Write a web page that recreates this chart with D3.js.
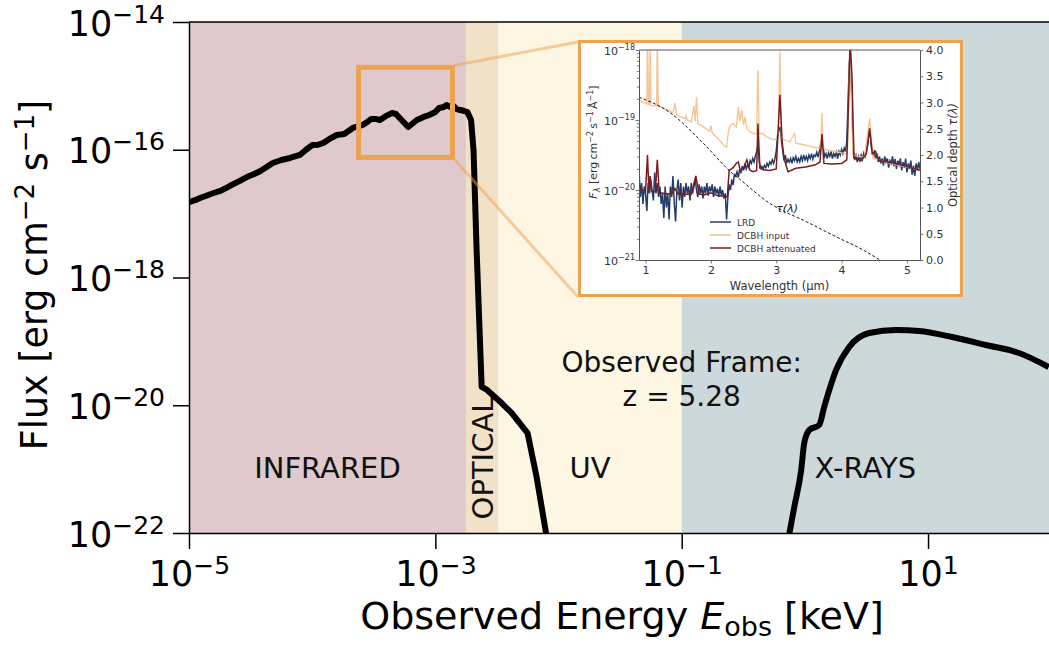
<!DOCTYPE html>
<html><head><meta charset="utf-8">
<script src="https://cdn.jsdelivr.net/npm/d3@7"></script>
<style>body{margin:0;background:#fff}svg{display:block}text{font-family:"DejaVu Sans",sans-serif}</style>
</head><body><svg id="c" width="1049" height="646"></svg>
<script>
// ---------------- DATA ----------------
// Main SED: [log10(E/keV), log10(Flux)]
const sedLowEnergy = [[-5.00,-16.82],[-4.95,-16.79],[-4.91,-16.755],[-4.86,-16.72],[-4.80,-16.677],[-4.74,-16.64],[-4.67,-16.568],[-4.60,-16.50],[-4.53,-16.427],[-4.47,-16.38],[-4.42,-16.333],[-4.37,-16.27],[-4.32,-16.207],[-4.25,-16.16],[-4.18,-16.129],[-4.10,-16.082],[-4.05,-16.00],[-4.00,-15.926],[-3.95,-15.92],[-3.91,-15.894],[-3.86,-15.83],[-3.80,-15.769],[-3.74,-15.753],[-3.67,-15.659],[-3.62,-15.63],[-3.59,-15.612],[-3.55,-15.56],[-3.52,-15.519],[-3.48,-15.52],[-3.45,-15.534],[-3.40,-15.47],[-3.35,-15.425],[-3.32,-15.44],[-3.29,-15.503],[-3.22,-15.644],[-3.15,-15.534],[-3.10,-15.49],[-3.05,-15.456],[-3.00,-15.41],[-2.97,-15.346],[-2.93,-15.33],[-2.91,-15.299],[-2.88,-15.33],[-2.86,-15.30],[-2.83,-15.36],[-2.80,-15.378],[-2.77,-15.39],[-2.74,-15.409],[-2.71,-15.534],[-2.69,-16.004],[-2.665,-17.569],[-2.641,-18.822],[-2.624,-19.714],[-2.58,-19.76],[-2.535,-19.84],[-2.46,-19.97],[-2.381,-20.121],[-2.251,-20.435],[-2.178,-21.123],[-2.097,-22.05]];
const sedXray = [[-0.13,-22.05],[-0.086,-21.593],[-0.03,-21.014],[-0.005,-20.591],[0.035,-20.388],[0.116,-20.309],[0.157,-20.027],[0.254,-19.448],[0.36,-19.088],[0.522,-18.869],[0.741,-18.822],[0.927,-18.838],[1.195,-18.932],[1.47,-19.057],[1.738,-19.182],[1.98,-19.401]];
// Bands (keV)
const bandNames = ["INFRARED","OPTICAL","UV","X-RAYS"];
const bandEdges = [1e-5, 1.771e-3, 3.263e-3, 0.1, 96];
const bandColors = ["#dfc9cc","#f1e2c7","#fdf6e3","#cdd8db"];
// Axis ticks
const xTickExps = [-5,-3,-1,1];
const yTickExps = [-14,-16,-18,-20,-22];
// zoom box (keV, flux)
const zoomBoxE = [2.384e-4, 1.378e-3];
const zoomBoxF = [Math.pow(10,-16.12), Math.pow(10,-14.71)];
// Inset spectra: [wavelength um, log10 F_lambda]
const lrdSpectrum = [[0.90,-19.70],[0.92,-20.10],[0.94,-19.90],[0.96,-20.20],[0.98,-19.95],[1.00,-20.05],[1.02,-20.30],[1.04,-19.90],[1.06,-20.05],[1.08,-19.85],[1.10,-20.00],[1.12,-20.15],[1.14,-19.75],[1.16,-20.05],[1.18,-19.90],[1.20,-20.10],[1.22,-19.95],[1.24,-20.20],[1.26,-20.05],[1.28,-20.40],[1.30,-19.95],[1.32,-20.25],[1.34,-20.05],[1.36,-20.42],[1.38,-19.95],[1.40,-20.10],[1.42,-19.80],[1.44,-20.20],[1.46,-20.45],[1.48,-20.00],[1.50,-19.85],[1.52,-20.15],[1.54,-19.90],[1.56,-20.25],[1.58,-19.95],[1.60,-20.10],[1.62,-19.90],[1.64,-20.05],[1.66,-19.95],[1.68,-20.15],[1.70,-19.90],[1.72,-20.05],[1.74,-19.95],[1.76,-19.85],[1.78,-20.00],[1.80,-20.10],[1.82,-19.92],[1.84,-20.05],[1.86,-19.95],[1.88,-20.12],[1.90,-19.95],[1.92,-20.05],[1.94,-19.90],[1.96,-20.08],[1.98,-19.95],[2.00,-20.02],[2.02,-19.92],[2.04,-20.10],[2.06,-19.95],[2.08,-20.05],[2.10,-19.98],[2.12,-20.10],[2.14,-19.95],[2.16,-20.08],[2.18,-20.00],[2.20,-20.12],[2.22,-20.05],[2.24,-20.42],[2.26,-20.10],[2.28,-19.92],[2.30,-20.00],[2.32,-19.85],[2.34,-19.93],[2.36,-19.78],[2.38,-19.80],[2.40,-19.74],[2.42,-19.82],[2.44,-19.70],[2.46,-19.76],[2.48,-19.66],[2.50,-19.72],[2.52,-19.62],[2.54,-19.70],[2.56,-19.64],[2.58,-19.68],[2.60,-19.58],[2.62,-19.62],[2.64,-19.55],[2.66,-19.60],[2.68,-19.52],[2.70,-19.45],[2.72,-19.36],[2.74,-19.60],[2.76,-19.68],[2.78,-19.66],[2.80,-19.70],[2.82,-19.65],[2.84,-19.68],[2.86,-19.62],[2.88,-19.66],[2.90,-19.60],[2.92,-19.63],[2.94,-19.57],[2.96,-19.62],[2.98,-19.55],[3.00,-19.45],[3.02,-19.22],[3.04,-19.15],[3.06,-19.10],[3.08,-19.30],[3.10,-19.45],[3.12,-19.58],[3.14,-19.50],[3.16,-19.62],[3.18,-19.56],[3.20,-19.60],[3.22,-19.55],[3.24,-19.62],[3.26,-19.54],[3.28,-19.58],[3.30,-19.52],[3.32,-19.60],[3.34,-19.55],[3.36,-19.60],[3.38,-19.52],[3.40,-19.58],[3.42,-19.50],[3.44,-19.57],[3.46,-19.52],[3.48,-19.58],[3.50,-19.50],[3.52,-19.55],[3.54,-19.48],[3.56,-19.56],[3.58,-19.50],[3.60,-19.52],[3.62,-19.46],[3.64,-19.53],[3.66,-19.45],[3.68,-19.35],[3.70,-19.28],[3.72,-19.40],[3.74,-19.52],[3.76,-19.48],[3.78,-19.55],[3.80,-19.47],[3.82,-19.52],[3.84,-19.45],[3.86,-19.55],[3.88,-19.48],[3.90,-19.52],[3.92,-19.46],[3.94,-19.55],[3.96,-19.45],[3.98,-19.50],[4.00,-19.42],[4.02,-19.48],[4.04,-19.40],[4.06,-19.45],[4.08,-19.30],[4.10,-18.70],[4.12,-18.15],[4.14,-18.25],[4.16,-18.80],[4.18,-19.45],[4.20,-19.55],[4.22,-19.50],[4.24,-19.60],[4.26,-19.52],[4.28,-19.58],[4.30,-19.50],[4.32,-19.56],[4.34,-19.47],[4.36,-19.52],[4.38,-19.42],[4.40,-19.35],[4.42,-19.18],[4.44,-19.22],[4.46,-19.42],[4.48,-19.50],[4.50,-19.45],[4.52,-19.55],[4.54,-19.48],[4.56,-19.60],[4.58,-19.52],[4.60,-19.62],[4.62,-19.55],[4.64,-19.65],[4.66,-19.52],[4.68,-19.60],[4.70,-19.55],[4.72,-19.68],[4.74,-19.58],[4.76,-19.62],[4.78,-19.52],[4.80,-19.66],[4.82,-19.56],[4.84,-19.70],[4.86,-19.58],[4.88,-19.64],[4.90,-19.55],[4.92,-19.72],[4.94,-19.60],[4.96,-19.68],[4.98,-19.55],[5.00,-19.75],[5.02,-19.62],[5.04,-19.70],[5.06,-19.58],[5.08,-19.78],[5.10,-19.65],[5.12,-19.80],[5.14,-19.62],[5.16,-19.72],[5.18,-19.60],[5.20,-19.70]];
const dcbhInput = [[0.90,-18.71],[0.95,-18.74],[1.00,-18.76],[1.02,-18.77],[1.03,-17.80],[1.045,-18.78],[1.06,-18.78],[1.07,-17.90],[1.085,-18.79],[1.16,-18.80],[1.17,-18.80],[1.18,-17.80],[1.195,-18.81],[1.25,-18.82],[1.30,-18.84],[1.36,-18.86],[1.42,-18.90],[1.45,-18.76],[1.48,-18.93],[1.55,-18.96],[1.61,-18.98],[1.62,-18.94],[1.64,-19.00],[1.70,-19.03],[1.74,-18.80],[1.76,-19.02],[1.78,-18.67],[1.80,-19.05],[1.86,-19.08],[1.92,-19.12],[1.98,-19.16],[2.00,-19.08],[2.02,-19.18],[2.08,-19.24],[2.14,-19.30],[2.20,-19.36],[2.24,-19.39],[2.27,-19.15],[2.30,-19.07],[2.34,-19.05],[2.39,-19.10],[2.42,-18.81],[2.44,-19.02],[2.47,-18.86],[2.50,-19.07],[2.52,-18.95],[2.55,-19.12],[2.60,-19.17],[2.65,-19.19],[2.70,-19.20],[2.72,-18.29],[2.74,-19.20],[2.78,-19.19],[2.85,-19.24],[2.95,-19.28],[3.03,-19.27],[3.056,-18.02],[3.08,-19.27],[3.15,-19.29],[3.21,-19.31],[3.28,-19.19],[3.30,-19.33],[3.40,-19.35],[3.50,-19.37],[3.62,-19.40],[3.68,-19.40],[3.70,-18.90],[3.72,-19.41],[3.80,-19.43],[3.90,-19.45],[4.00,-19.47],[4.09,-19.48],[4.13,-17.85],[4.17,-19.50],[4.25,-19.52],[4.35,-19.53],[4.43,-18.98],[4.48,-19.55],[4.56,-19.57],[4.70,-19.61],[4.90,-19.65],[5.05,-19.68],[5.20,-19.72]];
const dcbhAttenuated = [[0.90,-19.95],[0.95,-20.00],[1.00,-20.02],[1.03,-19.50],[1.05,-19.98],[1.07,-19.80],[1.09,-20.02],[1.15,-20.02],[1.18,-19.57],[1.21,-20.04],[1.30,-20.05],[1.40,-20.06],[1.45,-19.98],[1.50,-20.06],[1.60,-20.06],[1.70,-20.06],[1.77,-19.80],[1.82,-20.06],[1.90,-20.07],[2.00,-20.04],[2.10,-20.08],[2.20,-20.09],[2.25,-20.10],[2.28,-19.72],[2.34,-19.68],[2.39,-19.62],[2.42,-19.60],[2.45,-19.72],[2.50,-19.70],[2.55,-19.57],[2.60,-19.72],[2.65,-19.74],[2.70,-19.72],[2.72,-19.05],[2.75,-19.69],[2.80,-19.71],[2.90,-19.72],[3.00,-19.70],[3.056,-18.64],[3.09,-19.30],[3.12,-19.55],[3.18,-19.74],[3.30,-19.69],[3.45,-19.67],[3.60,-19.64],[3.67,-19.60],[3.70,-19.20],[3.73,-19.62],[3.85,-19.63],[4.00,-19.62],[4.08,-19.57],[4.11,-18.64],[4.13,-17.85],[4.16,-18.40],[4.19,-19.55],[4.30,-19.58],[4.38,-19.48],[4.43,-19.12],[4.47,-19.48],[4.52,-19.45],[4.57,-19.58],[4.70,-19.60],[4.90,-19.64],[5.05,-19.68],[5.20,-19.72]];
const tauCurve = [[0.90,3.10],[1.36,2.82],[1.87,2.24],[2.33,1.65],[2.44,1.54],[2.90,1.08],[3.13,0.92],[3.41,0.76],[3.92,0.44],[4.33,0.19],[4.585,0.0]];
const legendLabels = ["LRD","DCBH input","DCBH attenuated"];
const seriesColors = ["#253d66","#f6c28f","#7a1d1d"];
const tauTicks = [0,0.5,1,1.5,2,2.5,3,3.5,4];
const lamTicks = [1,2,3,4,5];
const insetFluxExps = [-21,-20,-19,-18];

// ---------------- DRAW ----------------
const svg = d3.select("#c");
const M = {l:189, r:1049, t:22, b:533};
const x = d3.scaleLog().domain([1e-5, Math.pow(10,1.982)]).range([M.l, M.r]);
const y = d3.scaleLog().domain([1e-22, 1e-14]).range([M.b, M.t]);
const P = v => Math.pow(10, v);

svg.append("defs").append("clipPath").attr("id","mainclip")
  .append("rect").attr("x",M.l).attr("y",M.t).attr("width",M.r-M.l).attr("height",M.b-M.t);

// bands
bandNames.forEach((n,i)=>{
  svg.append("rect").attr("x",x(bandEdges[i])).attr("y",M.t)
    .attr("width",x(bandEdges[i+1])-x(bandEdges[i])).attr("height",M.b-M.t)
    .attr("fill",bandColors[i]);
});
// band labels
bandNames.forEach((n,i)=>{
  const cx = (x(bandEdges[i])+x(bandEdges[i+1]))/2;
  if(n==="OPTICAL"){
    svg.append("text").attr("transform",`translate(${cx+10.5},458) rotate(-90)`)
      .attr("text-anchor","middle").attr("font-size",29).attr("fill","#111").text(n);
  } else {
    svg.append("text").attr("x",cx).attr("y",478).attr("text-anchor","middle")
      .attr("font-size",29).attr("fill","#111").text(n);
  }
});
svg.append("text").attr("x",x(0.1)).attr("y",372).attr("text-anchor","middle").attr("font-size",28).attr("fill","#111").text("Observed Frame:");
svg.append("text").attr("x",x(0.1)).attr("y",406).attr("text-anchor","middle").attr("font-size",28).attr("fill","#111").text("z = 5.28");

// SED curves
const line = d3.line().x(d=>x(P(d[0]))).y(d=>y(P(d[1])));
const gc = svg.append("g").attr("clip-path","url(#mainclip)");
gc.append("path").datum(sedLowEnergy).attr("d",line).attr("fill","none").attr("stroke","#000").attr("stroke-width",6).attr("stroke-linejoin","round");
gc.append("path").datum(sedXray).attr("d",line.curve(d3.curveMonotoneX)).attr("fill","none").attr("stroke","#000").attr("stroke-width",6).attr("stroke-linejoin","round");

// zoom box & connectors
const orange = "#eda24f";
const bx0 = x(zoomBoxE[0]), bx1 = x(zoomBoxE[1]), by0 = y(zoomBoxF[1]), by1 = y(zoomBoxF[0]);
svg.append("rect").attr("x",bx0).attr("y",by0).attr("width",bx1-bx0).attr("height",by1-by0)
  .attr("fill","none").attr("stroke",orange).attr("stroke-width",5);
const IB = {x0:578,y0:40,x1:963,y1:297};
svg.append("line").attr("x1",bx1+2).attr("y1",by0-2).attr("x2",IB.x0).attr("y2",IB.y0+2).attr("stroke",orange).attr("stroke-opacity",0.5).attr("stroke-width",3);
svg.append("line").attr("x1",bx1+2).attr("y1",by1+2).attr("x2",IB.x0).attr("y2",IB.y1).attr("stroke",orange).attr("stroke-opacity",0.5).attr("stroke-width",3);

// main axes
function pow10Label(t, exp, fs, sfs, dy){
  t.append("tspan").attr("font-size",fs).text("10");
  t.append("tspan").attr("font-size",sfs).attr("dy",dy).text(String(exp).replace("-","\u2212"));
}
const xAx = svg.append("g").attr("transform",`translate(0,${M.b})`)
  .call(d3.axisBottom(x).tickValues(xTickExps.map(P)).tickSize(16).tickSizeOuter(0).tickFormat(()=>""));
xAx.select(".domain").attr("stroke","#000").attr("stroke-width",1.5);
xAx.selectAll(".tick line").attr("stroke","#000").attr("stroke-width",1.5);
xAx.selectAll(".tick").each(function(d){
  const t = d3.select(this).append("text").attr("x",0).attr("y",53).attr("fill","#000")
    .attr("text-anchor","middle").style("font-family","DejaVu Sans");
  pow10Label(t, Math.round(Math.log10(d)), 35, 25, -12);
});
const yAx = svg.append("g").attr("transform",`translate(${M.l},0)`)
  .call(d3.axisLeft(y).tickValues(yTickExps.map(P)).tickSize(16).tickSizeOuter(0).tickFormat(()=>""));
yAx.select(".domain").attr("stroke","#000").attr("stroke-width",1.5);
yAx.selectAll(".tick line").attr("stroke","#000").attr("stroke-width",1.5);
yAx.selectAll(".tick").each(function(d){
  const t = d3.select(this).append("text").attr("x",-24).attr("y",13).attr("fill","#000")
    .attr("text-anchor","end").style("font-family","DejaVu Sans");
  pow10Label(t, Math.round(Math.log10(d)), 35, 25, -13);
});
svg.append("line").attr("x1",M.l).attr("x2",M.r).attr("y1",M.t).attr("y2",M.t).attr("stroke","#000").attr("stroke-width",1.5);

// axis titles
const xt = svg.append("text").attr("x",622).attr("y",629).attr("text-anchor","middle").attr("font-size",38).attr("fill","#000");
xt.append("tspan").text("Observed Energy ");
xt.append("tspan").attr("font-style","italic").text("E");
xt.append("tspan").attr("font-size",27).attr("dy",7).text("obs");
xt.append("tspan").attr("dy",-7).text(" [keV]");
const yt = svg.append("text").attr("transform","translate(47,275) rotate(-90)").attr("text-anchor","middle").attr("font-size",36.5).attr("fill","#000");
yt.append("tspan").text("Flux [erg cm");
yt.append("tspan").attr("font-size",26).attr("dy",-13).text("\u22122");
yt.append("tspan").attr("dy",13).text(" s");
yt.append("tspan").attr("font-size",26).attr("dy",-13).text("\u22121");
yt.append("tspan").attr("dy",13).text("]");

// ---------------- INSET ----------------
svg.append("rect").attr("x",IB.x0+1.5).attr("y",IB.y0+1.5).attr("width",IB.x1-IB.x0-3).attr("height",IB.y1-IB.y0-3)
  .attr("fill","#fff").attr("stroke",orange).attr("stroke-width",3);
const IA = {l:639, r:920, t:50, b:260};
const ix = d3.scaleLinear().domain([0.9,5.2]).range([IA.l, IA.r]);
const iy = d3.scaleLog().domain([1e-21,1e-18]).range([IA.b, IA.t]);
const itau = d3.scaleLinear().domain([0,4]).range([IA.b, IA.t]);
svg.select("defs").append("clipPath").attr("id","insetclip")
  .append("rect").attr("x",IA.l).attr("y",IA.t).attr("width",IA.r-IA.l).attr("height",IA.b-IA.t);
const gi = svg.append("g").attr("clip-path","url(#insetclip)");
const iline = d3.line().x(d=>ix(d[0])).y(d=>iy(P(d[1])));
gi.append("path").datum(lrdSpectrum).attr("d",iline).attr("fill","none").attr("stroke",seriesColors[0]).attr("stroke-width",1.5);
gi.append("path").datum(dcbhInput).attr("d",iline).attr("fill","none").attr("stroke",seriesColors[1]).attr("stroke-width",1.3);
gi.append("path").datum(dcbhAttenuated).attr("d",iline).attr("fill","none").attr("stroke",seriesColors[2]).attr("stroke-width",1.5);
gi.append("path").datum(tauCurve).attr("d",d3.line().x(d=>ix(d[0])).y(d=>itau(d[1])).curve(d3.curveMonotoneX))
  .attr("fill","none").attr("stroke","#000").attr("stroke-width",0.9).attr("stroke-dasharray","3,2");
svg.append("text").attr("x",ix(3.0)).attr("y",itau(0.92)).attr("font-size",11).attr("fill","#222").attr("font-style","italic").text("\u03c4(\u03bb)");

const axCol = "#555", txtCol = "#333";
const ib = svg.append("g").attr("transform",`translate(0,${IA.b})`)
  .call(d3.axisBottom(ix).tickValues(lamTicks).tickSize(3.5).tickSizeOuter(0).tickFormat(d3.format("d")));
const il = svg.append("g").attr("transform",`translate(${IA.l},0)`)
  .call(d3.axisLeft(iy).tickValues(insetFluxExps.map(P)).tickSize(3.5).tickSizeOuter(0).tickFormat(()=>""));
const minorVals = [];
[-21,-20,-19].forEach(e=>[2,3,4,5,6,7,8,9].forEach(k=>minorVals.push(k*P(e))));
const ilm = svg.append("g").attr("transform",`translate(${IA.l},0)`)
  .call(d3.axisLeft(iy).tickValues(minorVals).tickSize(2).tickSizeOuter(0).tickFormat(()=>""));
ilm.select(".domain").remove();
const ir = svg.append("g").attr("transform",`translate(${IA.r},0)`)
  .call(d3.axisRight(itau).tickValues(tauTicks).tickSize(3.5).tickSizeOuter(0).tickFormat(d3.format(".1f")));
svg.append("line").attr("x1",IA.l).attr("x2",IA.r).attr("y1",IA.t).attr("y2",IA.t).attr("stroke",axCol).attr("stroke-width",1);
[ib,il,ilm,ir].forEach(g=>{
  g.selectAll(".domain").attr("stroke",axCol).attr("stroke-width",1);
  g.selectAll(".tick line").attr("stroke",axCol).attr("stroke-width",0.8);
  g.selectAll(".tick text").attr("fill",txtCol).style("font-family","DejaVu Sans").attr("font-size",11);
});
ib.selectAll(".tick text").attr("y",6);
ir.selectAll(".tick text").attr("x",6);
il.selectAll(".tick").each(function(d){
  const t = d3.select(this).append("text").attr("x",-4).attr("y",4).attr("fill",txtCol)
    .attr("text-anchor","end").style("font-family","DejaVu Sans");
  pow10Label(t, Math.round(Math.log10(d)), 11, 8, -5);
});
svg.append("text").attr("x",ix(3.05)).attr("y",290).attr("text-anchor","middle").attr("font-size",11.5).attr("fill",txtCol).text("Wavelength (\u03bcm)");
const ryl = svg.append("text").attr("transform",`translate(957,155) rotate(-90)`).attr("text-anchor","middle").attr("font-size",11.5).attr("fill",txtCol);
ryl.append("tspan").text("Optical depth ");
ryl.append("tspan").attr("font-style","italic").text("\u03c4(\u03bb)");
const lyl = svg.append("text").attr("transform",`translate(597,142) rotate(-90)`).attr("text-anchor","middle").attr("font-size",11).attr("fill",txtCol);
lyl.append("tspan").attr("font-style","italic").text("F");
lyl.append("tspan").attr("font-size",8).attr("dy",3).attr("font-style","italic").text("\u03bb");
lyl.append("tspan").attr("dy",-3).text(" [erg\u2009cm");
lyl.append("tspan").attr("font-size",8).attr("dy",-4).text("\u22122");
lyl.append("tspan").attr("dy",4).text("\u2009s");
lyl.append("tspan").attr("font-size",8).attr("dy",-4).text("\u22121");
lyl.append("tspan").attr("dy",4).text("\u2009\u00c5");
lyl.append("tspan").attr("font-size",8).attr("dy",-4).text("\u22121");
lyl.append("tspan").attr("dy",4).text("]");

// legend
legendLabels.forEach((lab,i)=>{
  const ly = 222 + i*13;
  svg.append("line").attr("x1",710).attr("x2",731).attr("y1",ly).attr("y2",ly).attr("stroke",seriesColors[i]).attr("stroke-width",1.5);
  svg.append("text").attr("x",737).attr("y",ly+3.5).attr("font-size",9).attr("fill",txtCol).text(lab);
});
</script></body></html>
